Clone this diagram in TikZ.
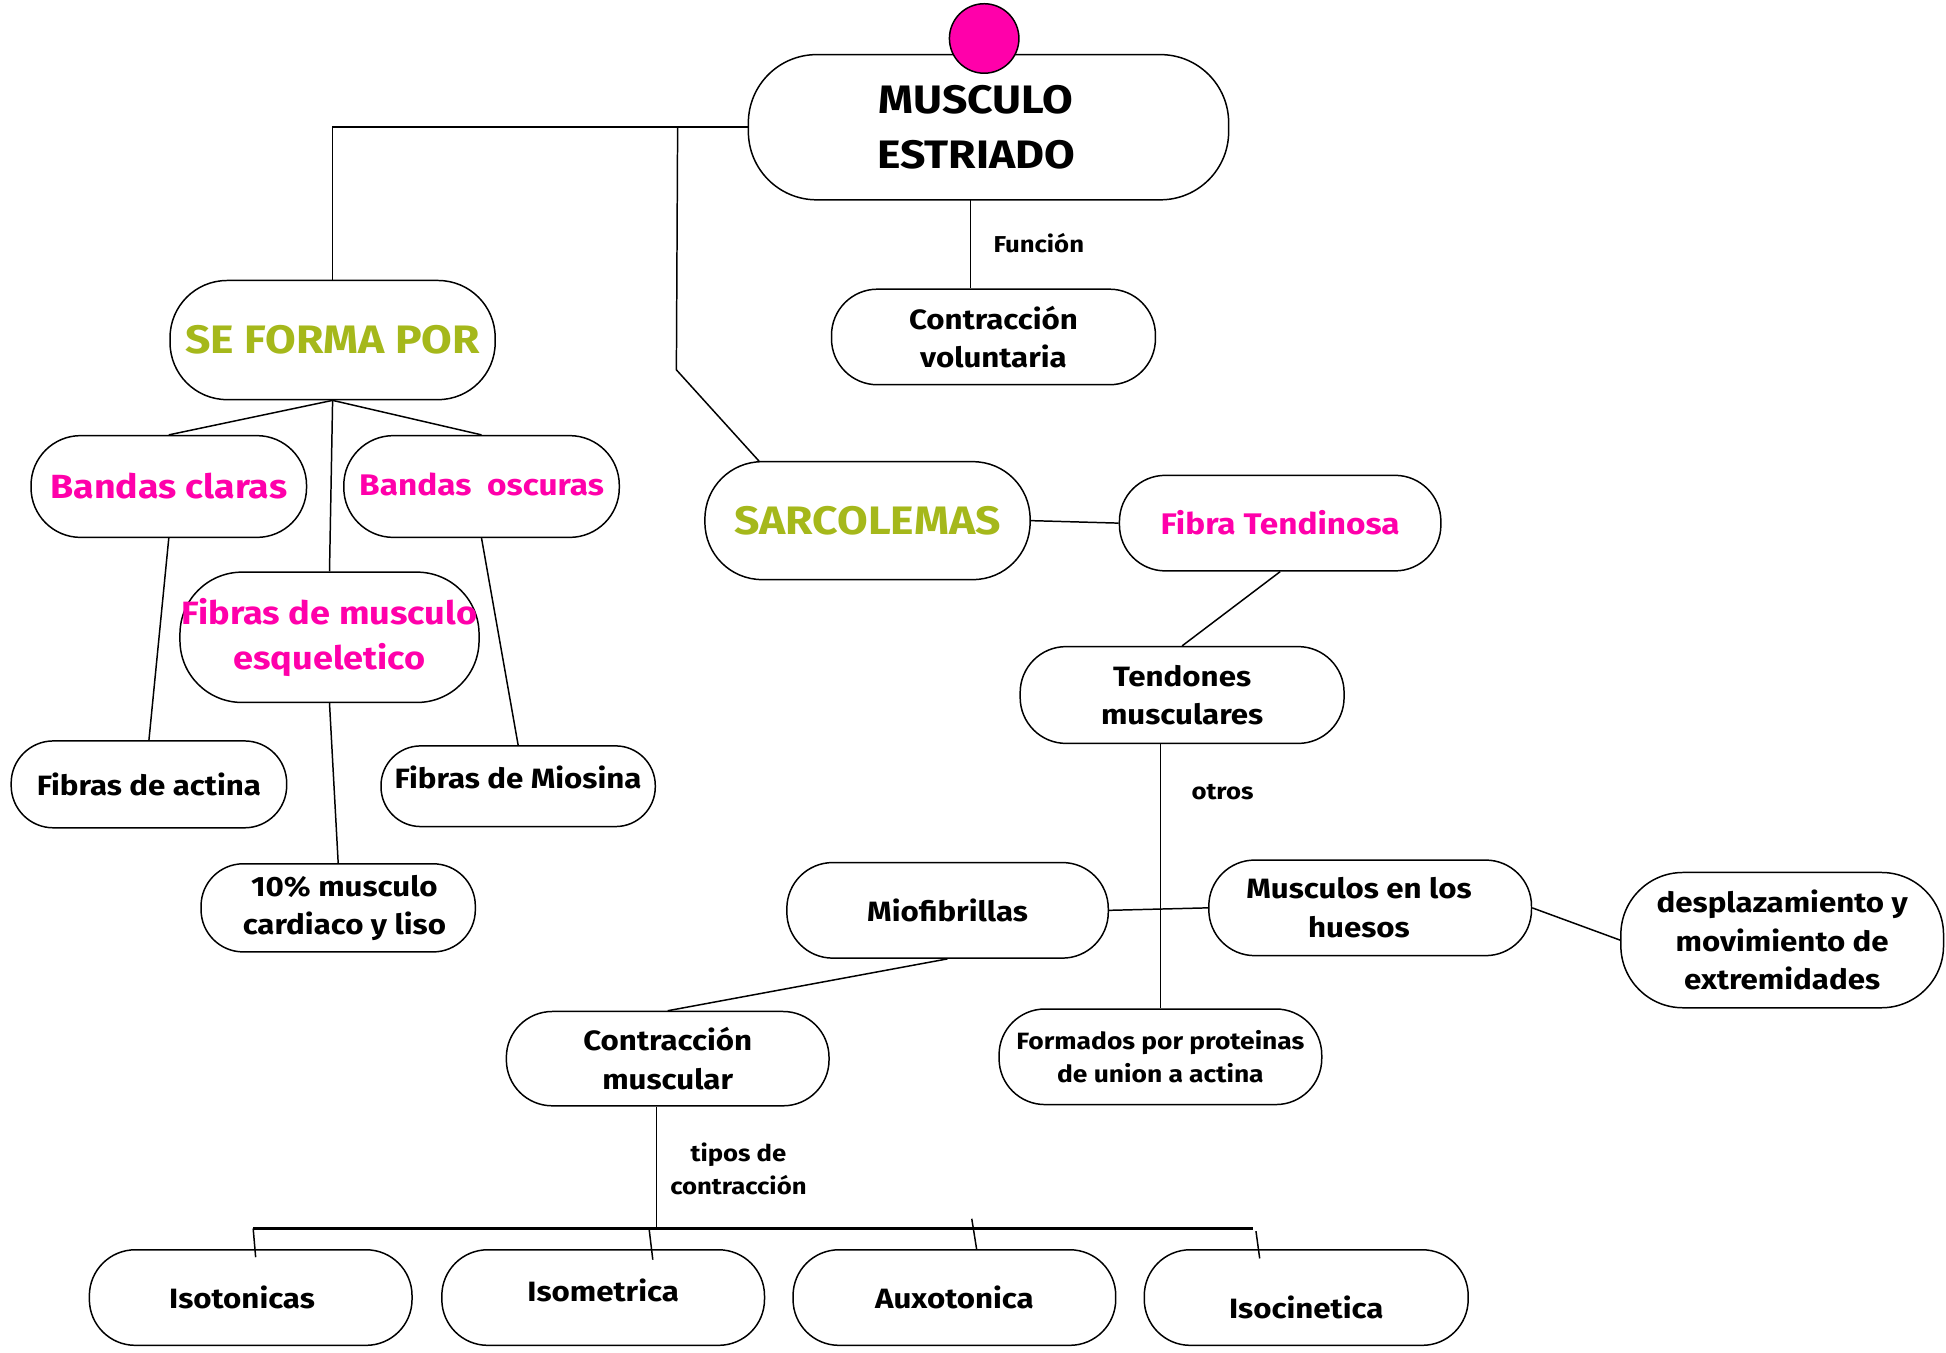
\documentclass[tikz,border=0pt]{standalone}
\usepackage{fontspec}
\setmainfont{Fira Sans}[FakeStretch=1.12]
\usetikzlibrary{calc}
\definecolor{pk}{RGB}{255,0,170}
\definecolor{gr}{RGB}{165,184,27}
\begin{document}
\begin{tikzpicture}[x=1pt,y=-1pt,line width=1.2pt,
  box/.style={draw, align=center, inner sep=0pt, font=\bfseries\fontsize{22.5}{31}\selectfont},
  b77/.style={box, minimum width=260pt, minimum height=77pt, rounded corners=37pt},
  lbl/.style={align=center, inner sep=0pt, font=\bfseries\fontsize{18.5}{27}\selectfont},
  big/.style={font=\bfseries\fontsize{32}{44}\selectfont},
  pinkt/.style={text=pk},
  greent/.style={text=gr, font=\fontsize{32}{40}\selectfont\bfseries}
]
\useasboundingbox (0,0) rectangle (1568,1090);
% nodes
\node[box, big, minimum width=387pt, minimum height=117pt, rounded corners=55pt] (mus) at (796.5,102.5) {MUSCULO\hspace*{20pt}\\ESTRIADO\hspace*{20pt}};
\node[circle, draw, fill=pk, minimum size=56pt, inner sep=0pt] (dot) at (793,31) {};
\node[b77, minimum width=261pt] (cv) at (800.5,271.5) {Contracción\\voluntaria};
\node[box, greent, minimum width=262pt, minimum height=96pt, rounded corners=46pt] (se) at (268,274) {SE FORMA POR};
\node[box, pinkt, font=\bfseries\fontsize{27}{34}\selectfont, minimum width=222pt, minimum height=82pt, rounded corners=40pt] (bc) at (136,392) {Bandas claras};
\node[box, pinkt, font=\bfseries\fontsize{24}{30}\selectfont, minimum width=222pt, minimum height=82pt, rounded corners=40pt] (bo) at (388,392) {\raisebox{3pt}{Bandas\ \ oscuras}};
\node[box, pinkt, font=\bfseries\fontsize{26}{36}\selectfont, minimum width=241pt, minimum height=105pt, rounded corners=50pt] (fm) at (265.5,513.5) {Fibras de musculo\\esqueletico};
\node[box, minimum width=222pt, minimum height=70pt, rounded corners=34pt] (fa) at (120,632) {Fibras de actina};
\node[box, text height=10pt, text depth=7pt, minimum width=221pt, minimum height=65pt, rounded corners=32pt] (fmi) at (417.5,633.5) {Fibras de Miosina};
\node[box, minimum width=221pt, minimum height=71pt, rounded corners=34pt] (p10) at (272.5,731.5) {\hspace*{10pt}10\% musculo\\\hspace*{10pt}cardiaco y liso};
\node[box, greent, minimum width=262pt, minimum height=95pt, rounded corners=46pt] (sar) at (699,419.5) {SARCOLEMAS};
\node[b77, pinkt, font=\bfseries\fontsize{24}{30}\selectfont, minimum width=259pt] (ft) at (1031.5,421.5) {Fibra Tendinosa};
\node[b77, minimum width=261pt, minimum height=78pt] (td) at (952.5,560) {Tendones\\musculares};
\node[b77, minimum width=259pt] (mio) at (763.5,733.5) {Miofibrillas};
\node[b77] (mh) at (1104,731.5) {Musculos en los\hspace*{18pt}\\huesos\hspace*{18pt}};
\node[box, minimum width=260pt, minimum height=109pt, rounded corners=50pt] (dm) at (1436,757.5) {desplazamiento y\\movimiento de\\extremidades};
\node[b77, font=\bfseries\fontsize{19}{27}\selectfont] (fp) at (935,851.5) {Formados por proteinas\\de union a actina};
\node[b77, minimum height=76pt] (cm) at (538,853) {Contracción\\muscular};
\node[b77] (i1) at (202,1045.5) {Isotonicas\hspace*{14pt}};
\node[b77, text height=12pt, text depth=5pt] (i2) at (486,1045.5) {Isometrica};
\node[b77] (i3) at (769,1045.5) {Auxotonica};
\node[b77, text height=33pt, text depth=0pt, minimum width=261pt] (i4) at (1052.5,1045.5) {Isocinetica};
% labels
\node[lbl] (lfun) at (837,196) {Función};
\node[lbl] (lotr) at (985,638) {otros};
\node[lbl] (ltip) at (595,942) {tipos de\\contracción};
% junction coordinates
\coordinate (k1) at (546,102.5);
\coordinate (k2) at (545,298);
\coordinate (k3) at (612,372);
\coordinate (f1) at (782,161);
\coordinate (j4) at (529,990);
\coordinate (b1) at (204,990);
\coordinate (b2) at (1010,990);
\coordinate (t1) at (206,1013);
\coordinate (t2a) at (523,990);
\coordinate (t2) at (526,1015);
\coordinate (t3a) at (783,982);
\coordinate (t3) at (787,1007);
\coordinate (t4a) at (1012,992);
\coordinate (t4) at (1015,1014);
% connectors
\draw (mus.west) -| (se.north);
\draw (k1) -- (k2) -- (k3);
\draw (f1) -- (cv.north -| f1);
\draw (se.south) -- (bc.north);
\draw (se.south) -- (bo.north);
\draw (se.south) -- (fm.north);
\draw (bc.south) -- (fa.north);
\draw (bo.south) -- (fmi.north);
\draw (fm.south) -- (p10.north);
\draw (sar.east) -- (ft.west);
\draw (ft.south) -- (td.north);
\draw (fp.north |- td.south) -- (fp.north);
\draw (mio.east) -- (mh.west);
\draw (mh.east) -- (dm.west);
\draw (mio.south) -- (cm.north);
\draw (cm.south -| j4) -- (j4);
\draw[line width=2pt] (b1) -- (b2);
\draw (b1) -- (t1);
\draw (t2a) -- (t2);
\draw (t3a) -- (t3);
\draw (t4a) -- (t4);
\end{tikzpicture}
\end{document}
